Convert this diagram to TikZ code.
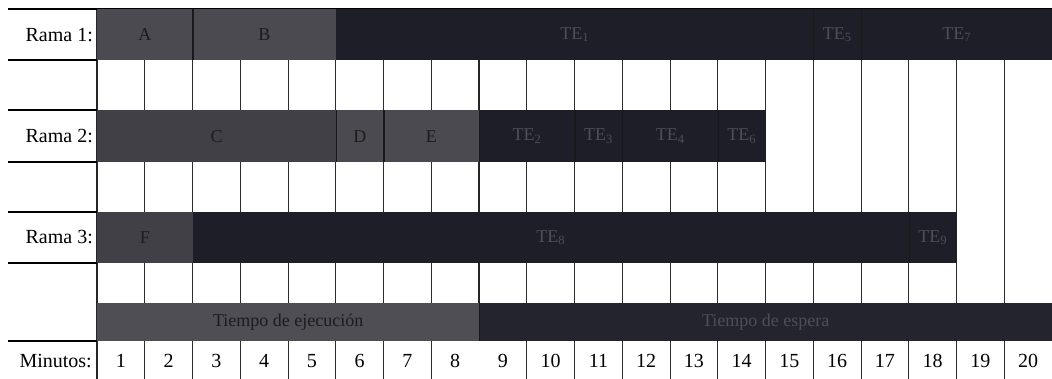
\documentclass[tikz,border=0pt]{standalone}
\usepackage{fontspec}
\setmainfont{Liberation Serif}
\definecolor{grayA}{RGB}{74,74,80}
\definecolor{grayC}{RGB}{64,64,70}
\definecolor{barblack}{RGB}{30,30,40}
\definecolor{legA}{RGB}{78,78,84}
\definecolor{legB}{RGB}{36,36,46}
\definecolor{txtdark}{RGB}{28,28,30}
\definecolor{txtlight}{RGB}{78,78,88}
\definecolor{gridline}{RGB}{45,45,45}
\newcommand\cw{47.75}
\newcommand\xo{97}
% name, fill, text colour, start column, number of columns, y top, y bottom, label
\newcommand\barseg[8]{%
  \node[segbox, fill=#2, text=#3, minimum width={#5*\cw pt}, minimum height={(#7-#6)*1pt}]
    (#1) at ({\xo+(#4-1)*\cw}, #6) {#8};}
\begin{document}
\begin{tikzpicture}[x=1pt,y=-1pt,
  every node/.style={font=\fontsize{20}{24}\selectfont},
  segbox/.style={draw=none, inner sep=0pt, anchor=north west, font=\fontsize{18}{22}\selectfont},
  rowlabel/.style={anchor=east, inner sep=0pt, text=black},
  num/.style={inner sep=0pt, text=black},
  grid/.style={draw=gridline, line width=1pt},
  thickgrid/.style={draw=black!85, line width=2pt},
  hline/.style={draw=black, line width=1.5pt},
  divider/.style={draw=black!90, line width=1.3pt}]
\useasboundingbox (0,0) rectangle (1052,379);
\fill[white] (0,0) rectangle (1052,379);
% vertical grid lines
\foreach \k in {1,...,7,9,10,...,19} {
  \draw[grid] ({\xo+\k*\cw},9) -- ({\xo+\k*\cw},379);
}
\draw[thickgrid] (\xo,9) -- (\xo,379);
\draw[thickgrid] ({\xo+8*\cw},9) -- ({\xo+8*\cw},341);
% horizontal lines of the label column
\draw[hline] (8,9) -- (1052,9);
\foreach \y in {60,110,162,212,263,341} {
  \draw[hline] (8,\y) -- (\xo,\y);
}
% row labels
\node[rowlabel] (r1) at (93,35) {Rama 1:};
\node[rowlabel] (r2) at (93,136) {Rama 2:};
\node[rowlabel] (r3) at (93,237) {Rama 3:};
\node[rowlabel] (mn) at (92,361) {Minutos:};
% Rama 1
\barseg{A}{grayA}{txtdark}{1}{2}{9}{60}{A}
\barseg{B}{grayA}{txtdark}{3}{3}{9}{60}{B}
\barseg{TEa}{barblack}{txtlight}{6}{10}{9}{60}{TE\textsubscript{1}}
\barseg{TEe}{barblack}{txtlight}{16}{1}{9}{60}{TE\textsubscript{5}}
\barseg{TEg}{barblack}{txtlight}{17}{4}{9}{60}{TE\textsubscript{7}}
% Rama 2
\barseg{C}{grayC}{txtdark}{1}{5}{110}{162}{C}
\barseg{D}{grayA}{txtdark}{6}{1}{110}{162}{D}
\barseg{E}{grayA}{txtdark}{7}{2}{110}{162}{E}
\barseg{TEb}{barblack}{txtlight}{9}{2}{110}{162}{TE\textsubscript{2}}
\barseg{TEc}{barblack}{txtlight}{11}{1}{110}{162}{TE\textsubscript{3}}
\barseg{TEd}{barblack}{txtlight}{12}{2}{110}{162}{TE\textsubscript{4}}
\barseg{TEf}{barblack}{txtlight}{14}{1}{110}{162}{TE\textsubscript{6}}
% Rama 3
\barseg{F}{grayC}{txtdark}{1}{2}{212}{263}{F}
\barseg{TEh}{barblack}{txtlight}{3}{15}{212}{263}{TE\textsubscript{8}}
\barseg{TEi}{barblack}{txtlight}{18}{1}{212}{263}{TE\textsubscript{9}}
% legend
\barseg{ejec}{legA}{txtdark}{1}{8}{303}{341}{Tiempo de ejecución}
\barseg{esp}{legB}{txtlight}{9}{12}{303}{341}{Tiempo de espera}
% dividers between segments
\foreach \n in {A,TEa,TEe,C,D,E,TEb,TEc,TEd,TEh,ejec} {
  \draw[divider] (\n.north east) -- (\n.south east);
}
% minute numbers
\foreach \k in {1,...,20} {
  \node[num] (m\k) at ({\xo+(\k-0.5)*\cw},361) {\k};
}
\end{tikzpicture}
\end{document}
